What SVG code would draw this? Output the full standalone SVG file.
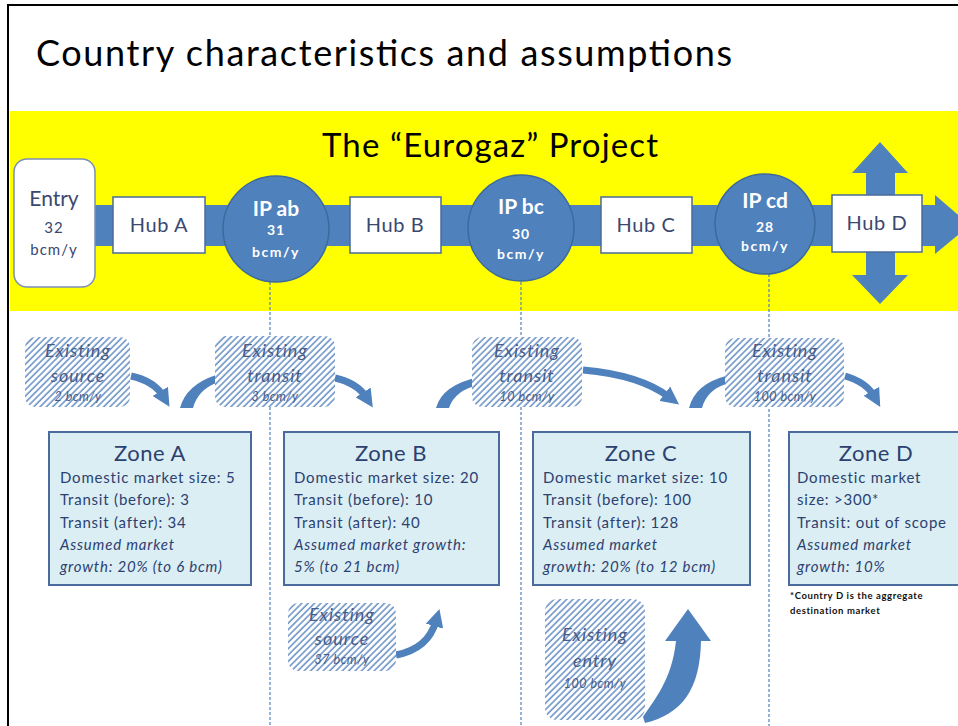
<svg xmlns="http://www.w3.org/2000/svg" width="958" height="726" viewBox="0 0 958 726">
<defs>
<style>
.t{font-family:Lato,"Open Sans","Liberation Sans",sans-serif}
.hub{fill:#fff;stroke:#4a6b9b;stroke-width:1.5}
.hubt{font-size:20px;fill:#3a4870;text-anchor:middle;letter-spacing:0.6px}
.ip{fill:#4f81bd;stroke:#3d6a9e;stroke-width:1.5}
.ipt{fill:#fff;text-anchor:middle;font-weight:bold}
.zone{fill:#dbeef4;stroke:#4a6b9b;stroke-width:2}
.zt{font-size:22px;fill:#2c4170;text-anchor:middle;letter-spacing:0.5px}
.zl{font-size:15px;fill:#2c4170;letter-spacing:0.8px}
.zi{font-size:15px;fill:#2c4170;font-style:italic;letter-spacing:0.8px}
.hat{fill:url(#hatch)}
.ht{font-style:italic;fill:#4a5c88;text-anchor:middle;font-size:18px;letter-spacing:1px}
.hs{font-style:italic;fill:#4a5c88;text-anchor:middle;font-size:12.5px;letter-spacing:0.5px}
.dash{stroke:#4f81bd;stroke-width:1.2;stroke-dasharray:3 2;fill:none}
.arr{fill:none;stroke:#4f81bd;stroke-width:7}
.fill{fill:#4f81bd}
</style>
<pattern id="hatch" patternUnits="userSpaceOnUse" width="4.5" height="10" patternTransform="rotate(45)">
<rect width="4.5" height="10" fill="#fff"/>
<line x1="1" y1="0" x2="1" y2="10" stroke="#6f96c8" stroke-width="1.6"/>
</pattern>
<marker id="head" viewBox="0 0 10 10" refX="3" refY="5" markerUnits="userSpaceOnUse" markerWidth="18" markerHeight="18" orient="auto">
<path d="M0,0 L10,5 L0,10 Z" fill="#4f81bd"/>
</marker>
</defs>
<rect width="958" height="726" fill="#fff"/>
<rect x="8" y="5" width="970" height="740" fill="none" stroke="#000" stroke-width="2"/>
<text class="t" x="36" y="66" font-size="36" fill="#000" textLength="696">Country characteristics and assumptions</text>
<rect x="10" y="111" width="948" height="200" fill="#ffff00"/>
<text class="t" x="322" y="157" font-size="33" fill="#000" textLength="336">The “Eurogaz” Project</text>

<g id="pipeline">
<rect x="95" y="205" width="842" height="41" class="fill"/>
<polygon points="935,195 970,225 935,254" class="fill"/>
<polygon points="866,173 852,173 880,142 908,173 895,173 895,275 908,275 880,304 852,275 866,275" class="fill"/>
</g>

<g id="connectors">
<line class="dash" x1="270" y1="282" x2="270" y2="726"/>
<line class="dash" x1="521" y1="282" x2="521" y2="726"/>
<line class="dash" x1="769" y1="274" x2="769" y2="726"/>
<path class="arr" d="M131,376 Q154,381 163,396" marker-end="url(#head)"/>
<path class="arr" d="M335,378 Q357,383 366,397" marker-end="url(#head)"/>
<path class="arr" d="M583,370 Q640,375 669,397" stroke-width="5" marker-end="url(#head)"/>
<path class="arr" d="M845,376 Q866,382 874,396" marker-end="url(#head)"/>
<path class="fill" d="M180,408 Q186,385 216,375 L216,383 Q198,390 193,408 Z"/>
<path class="fill" d="M436,408 Q442,385 479,377 L479,385 Q455,390 449,408 Z"/>
<path class="fill" d="M689,408 Q695,384 726,376 L726,384 Q707,390 702,408 Z"/>
<path class="arr" d="M396,655 Q428,649 436,621" marker-end="url(#head)"/>
<path class="fill" d="M643,717 C654,700 672,680 676,641 L665,641 L688,609 L711,641 L701,641 C700,690 682,714 645,723 Z"/>
</g>

<g id="entry">
<rect x="14" y="159" width="81" height="128" rx="13" fill="#fff" stroke="#7b90b4" stroke-width="1.5"/>
<text class="t" x="54" y="206" font-size="21" fill="#3a4870" text-anchor="middle">Entry</text>
<text class="t" x="54" y="233" font-size="15" fill="#3a4870" text-anchor="middle" letter-spacing="1">32</text>
<text class="t" x="54" y="255" font-size="15" fill="#3a4870" text-anchor="middle" letter-spacing="1">bcm/y</text>
</g>
<g id="hubA"><rect class="hub" x="113" y="197" width="92" height="56"/><text class="t hubt" x="159" y="232">Hub A</text></g>
<g id="hubB"><rect class="hub" x="350" y="197" width="91" height="56"/><text class="t hubt" x="395" y="232">Hub B</text></g>
<g id="hubC"><rect class="hub" x="601" y="197" width="91" height="56"/><text class="t hubt" x="646" y="232">Hub C</text></g>
<g id="hubD"><rect class="hub" x="832" y="195" width="90" height="57"/><text class="t hubt" x="877" y="230">Hub D</text></g>

<g id="ipab"><circle class="ip" cx="276" cy="229" r="53"/>
<text class="t ipt" x="276" y="216" font-size="21">IP ab</text>
<text class="t ipt" x="276" y="235" font-size="14" letter-spacing="1">31</text>
<text class="t ipt" x="276" y="257" font-size="14" letter-spacing="1.5">bcm/y</text></g>
<g id="ipbc"><circle class="ip" cx="521" cy="228" r="53"/>
<text class="t ipt" x="521" y="214" font-size="21">IP bc</text>
<text class="t ipt" x="521" y="239" font-size="14" letter-spacing="1">30</text>
<text class="t ipt" x="521" y="259" font-size="14" letter-spacing="1.5">bcm/y</text></g>
<g id="ipcd"><circle class="ip" cx="765" cy="224" r="50"/>
<text class="t ipt" x="765" y="208" font-size="21">IP cd</text>
<text class="t ipt" x="765" y="232" font-size="14" letter-spacing="1">28</text>
<text class="t ipt" x="765" y="251" font-size="14" letter-spacing="1.5">bcm/y</text></g>

<g id="exist1"><rect class="hat" x="25" y="337" width="105" height="70" rx="10"/>
<text class="t ht" x="78" y="357">Existing</text><text class="t ht" x="78" y="382">source</text><text class="t hs" x="78" y="401">2 bcm/y</text></g>
<g id="exist2"><rect class="hat" x="215" y="336" width="120" height="71" rx="10"/>
<text class="t ht" x="275" y="357">Existing</text><text class="t ht" x="275" y="382">transit</text><text class="t hs" x="275" y="401">3 bcm/y</text></g>
<g id="exist3"><rect class="hat" x="472" y="337" width="110" height="70" rx="10"/>
<text class="t ht" x="527" y="357">Existing</text><text class="t ht" x="527" y="382">transit</text><text class="t hs" x="527" y="401">10 bcm/y</text></g>
<g id="exist4"><rect class="hat" x="725" y="338" width="119" height="69" rx="10"/>
<text class="t ht" x="785" y="357">Existing</text><text class="t ht" x="785" y="382">transit</text><text class="t hs" x="785" y="401">100 bcm/y</text></g>
<g id="exist5"><rect class="hat" x="288" y="603" width="108" height="68" rx="10"/>
<text class="t ht" x="342" y="621">Existing</text><text class="t ht" x="342" y="645">source</text><text class="t hs" x="342" y="664">37 bcm/y</text></g>
<g id="exist6"><rect class="hat" x="545" y="599" width="100" height="121" rx="12"/>
<text class="t ht" x="595" y="641">Existing</text><text class="t ht" x="595" y="667">entry</text><text class="t hs" x="595" y="688">100 bcm/y</text></g>

<g id="zoneA"><rect class="zone" x="49" y="432" width="202" height="153"/>
<text class="t zt" x="150" y="461">Zone A</text>
<text class="t zl" x="60" y="483">Domestic market size: 5</text>
<text class="t zl" x="60" y="505">Transit (before): 3</text>
<text class="t zl" x="60" y="528">Transit (after): 34</text>
<text class="t zi" x="60" y="550">Assumed market</text>
<text class="t zi" x="60" y="572">growth: 20% (to 6 bcm)</text></g>
<g id="zoneB"><rect class="zone" x="284" y="432" width="215" height="153"/>
<text class="t zt" x="391" y="461">Zone B</text>
<text class="t zl" x="294" y="483">Domestic market size: 20</text>
<text class="t zl" x="294" y="505">Transit (before): 10</text>
<text class="t zl" x="294" y="528">Transit (after): 40</text>
<text class="t zi" x="294" y="550">Assumed market growth:</text>
<text class="t zi" x="294" y="572">5% (to 21 bcm)</text></g>
<g id="zoneC"><rect class="zone" x="533" y="432" width="217" height="153"/>
<text class="t zt" x="641" y="461">Zone C</text>
<text class="t zl" x="543" y="483">Domestic market size: 10</text>
<text class="t zl" x="543" y="505">Transit (before): 100</text>
<text class="t zl" x="543" y="528">Transit (after): 128</text>
<text class="t zi" x="543" y="550">Assumed market</text>
<text class="t zi" x="543" y="572">growth: 20% (to 12 bcm)</text></g>
<g id="zoneD"><rect class="zone" x="789" y="432" width="180" height="153"/>
<text class="t zt" x="876" y="461">Zone D</text>
<text class="t zl" x="797" y="483">Domestic market</text>
<text class="t zl" x="797" y="505">size: &gt;300*</text>
<text class="t zl" x="797" y="528">Transit: out of scope</text>
<text class="t zi" x="797" y="550">Assumed market</text>
<text class="t zi" x="797" y="572">growth: 10%</text>
<text class="t" x="790" y="599" font-size="9.5" font-weight="bold" fill="#111" letter-spacing="0.6">*Country D is the aggregate</text>
<text class="t" x="790" y="614" font-size="9.5" font-weight="bold" fill="#111" letter-spacing="0.6">destination market</text></g>
</svg>
